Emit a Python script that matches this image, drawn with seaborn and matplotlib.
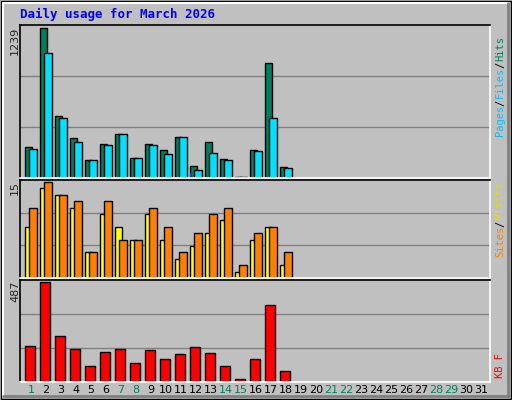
import numpy as np
import matplotlib
matplotlib.use("Agg")
import matplotlib.pyplot as plt
import seaborn as sns

sns.set_style("white")

days = np.arange(1, 32)
hits = [253, 1239, 513, 329, 149, 284, 360, 169, 284, 234, 335, 99, 301, 158, 8, 234, 952, 90]
files = [242, 1036, 496, 301, 149, 276, 360, 169, 276, 200, 335, 65, 208, 149, 5, 225, 496, 82]
pages = [20, 10, 12, 10, 5, 8, 12, 6, 10, 8, 6, 40, 8, 6, 2, 6, 12, 5]
visits = [8, 14, 13, 11, 4, 10, 8, 6, 10, 6, 3, 5, 7, 9, 1, 6, 8, 2]
sites = [11, 15, 13, 12, 4, 12, 6, 6, 11, 8, 4, 7, 10, 11, 2, 7, 8, 4]
kbytes = [177, 487, 225, 161, 80, 144, 161, 91, 155, 112, 134, 171, 139, 80, 16, 112, 375, 54]
weekend = [1, 7, 8, 14, 15, 21, 22, 28, 29]

W, H = 512, 400
fig = plt.figure(figsize=(W / 100, H / 100), dpi=100, facecolor="#c0c0c0")
bg = fig.add_axes([0, 0, 1, 1])
bg.set_xlim(0, W); bg.set_ylim(H, 0); bg.axis("off")
bg.plot([1, W - 1, W - 1, 1, 1], [1, 1, H - 1, H - 1, 1], color="black", lw=1)
bg.plot([3, W - 3], [3, 3], color="white", lw=1.5)
bg.plot([3, 3], [3, H - 3], color="white", lw=1.5)
bg.plot([3, W - 3], [H - 4, H - 4], color="#808080", lw=2)
bg.plot([W - 4, W - 4], [3, H - 3], color="#808080", lw=2)
bg.text(20, 14, "Daily usage for March 2026", color="#0000ff", fontsize=9,
        fontweight="bold", family="DejaVu Sans Mono", va="center")

def panel(y0, y1):
    ax = fig.add_axes([20 / W, 1 - y1 / H, 470 / W, (y1 - y0) / H])
    ax.set_facecolor("#c0c0c0")
    ax.set_xlim(0.27, 31.6)
    ax.set_xticks([]); ax.set_yticks([])
    for s in ax.spines.values():
        s.set_color("white"); s.set_linewidth(1.2)
    ax.spines["left"].set_color("black"); ax.spines["top"].set_color("black")
    return ax

n = len(hits)
x = days[:n]
kw = dict(align="edge", edgecolor="black", linewidth=1)

ax1 = panel(25, 178)
ymax = max(hits) * 1.02
ax1.set_ylim(0, ymax)
for g in (ymax * 1 / 3, ymax * 2 / 3):
    ax1.axhline(g, color="#808080", lw=1, zorder=0)
ax1.bar(x - 0.4, hits, width=0.5, color="#00805c", **kw)
ax1.bar(x - 0.13, files, width=0.53, color="#00e0ff", **kw)
ax1.bar(x - 0.4, pages, width=0.15, color="#0040ff", align="edge", linewidth=0)

ax2 = panel(180, 278)
ymax = max(sites) * 1.02
ax2.set_ylim(0, ymax)
for g in (ymax / 3, ymax * 2 / 3):
    ax2.axhline(g, color="#808080", lw=1, zorder=0)
ax2.bar(x - 0.4, visits, width=0.5, color="#ffff00", **kw)
ax2.bar(x - 0.13, sites, width=0.53, color="#ff8000", **kw)

ax3 = panel(280, 382)
ymax = max(kbytes) * 1.02
ax3.set_ylim(0, ymax)
for g in (ymax / 3, ymax * 2 / 3):
    ax3.axhline(g, color="#808080", lw=1, zorder=0)
ax3.bar(x - 0.4, kbytes, width=0.7, color="#ff0000", **kw)

for d in days:
    bg.text(20 + (d - 0.27) * 470 / 31.33, 390, str(d), ha="center", va="center",
            fontsize=8, color="#00805c" if d in weekend else "black")

for y, t in [(27, str(max(hits))), (181, str(max(sites))), (281, str(max(kbytes)))]:
    bg.text(15, y, t, rotation=90, ha="center", va="top", fontsize=8)

# rotated labels read bottom-to-top: stack parts upward from a bottom point
def side(ybottom, parts, step=5.6):
    y = ybottom
    for t, c in parts:
        bg.text(500, y, t, rotation=90, ha="center", va="bottom", color=c,
                fontsize=7.5, family="DejaVu Sans Mono")
        y -= len(t) * step + 2

side(136, [("Pages", "#00c0ff"), ("/", "#000000"), ("Files", "#00c0ff"), ("/", "#000000"), ("Hits", "#00805c")])
side(257, [("Sites", "#ff8000"), ("/", "#000000"), ("Visits", "#e0e000")])
side(378, [("KB F", "#ff0000")])
plt.savefig("out.png", dpi=100, facecolor=fig.get_facecolor())
